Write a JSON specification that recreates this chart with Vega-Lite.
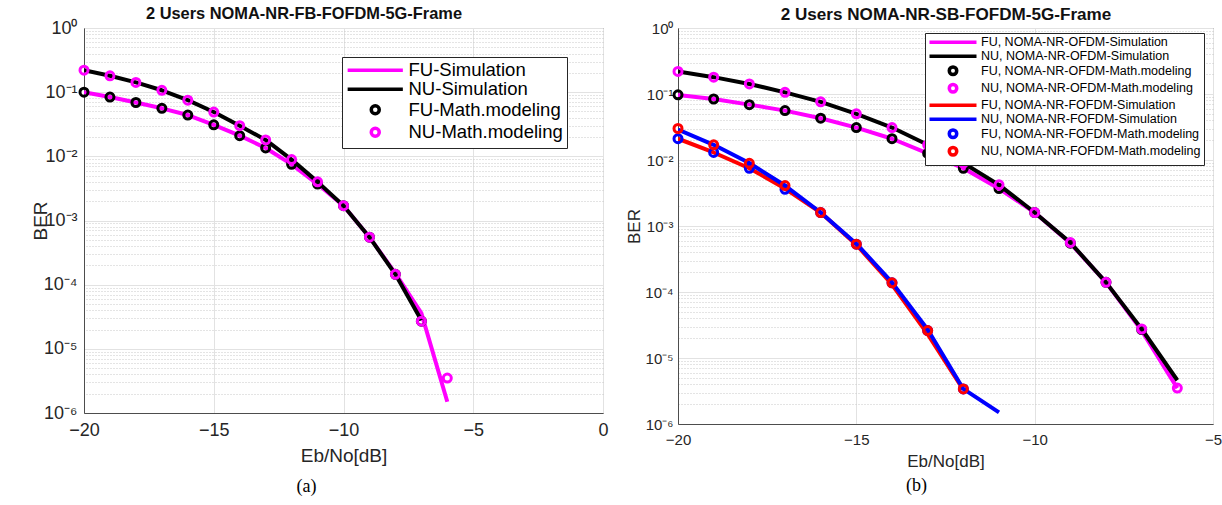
{
  "$schema": "https://vega.github.io/schema/vega-lite/v6.json",
  "background": "white",
  "padding": {"left": 30, "top": 4, "right": 2, "bottom": 2},
  "spacing": 16,
  "config": {
    "font": "Liberation Sans",
    "view": {"stroke": "#4d4d4d", "strokeWidth": 1},
    "axis": {
      "labelFont": "Liberation Sans",
      "titleFont": "Liberation Sans",
      "labelColor": "#262626",
      "titleColor": "#262626",
      "titleFontWeight": "normal",
      "domainColor": "#4d4d4d",
      "gridColor": "#e2e2e2",
      "ticks": false,
      "labelFlush": false
    }
  },
  "datasets": {
    "a": [
      {"s": "FU-Simulation", "k": "sim", "x": -20, "ber": 0.1},
      {"s": "FU-Simulation", "k": "sim", "x": -19, "ber": 0.084},
      {"s": "FU-Simulation", "k": "sim", "x": -18, "ber": 0.069},
      {"s": "FU-Simulation", "k": "sim", "x": -17, "ber": 0.056},
      {"s": "FU-Simulation", "k": "sim", "x": -16, "ber": 0.044},
      {"s": "FU-Simulation", "k": "sim", "x": -15, "ber": 0.031},
      {"s": "FU-Simulation", "k": "sim", "x": -14, "ber": 0.021},
      {"s": "FU-Simulation", "k": "sim", "x": -13, "ber": 0.0135},
      {"s": "FU-Simulation", "k": "sim", "x": -12, "ber": 0.0075},
      {"s": "FU-Simulation", "k": "sim", "x": -11, "ber": 0.0037},
      {"s": "FU-Simulation", "k": "sim", "x": -10, "ber": 0.0017},
      {"s": "FU-Simulation", "k": "sim", "x": -9, "ber": 0.00055},
      {"s": "FU-Simulation", "k": "sim", "x": -8, "ber": 0.00015},
      {"s": "FU-Simulation", "k": "sim", "x": -7, "ber": 0.000036},
      {"s": "FU-Simulation", "k": "sim", "x": -6, "ber": 0.0000015},
      {"s": "NU-Simulation", "k": "sim", "x": -20, "ber": 0.22},
      {"s": "NU-Simulation", "k": "sim", "x": -19, "ber": 0.18},
      {"s": "NU-Simulation", "k": "sim", "x": -18, "ber": 0.142},
      {"s": "NU-Simulation", "k": "sim", "x": -17, "ber": 0.107},
      {"s": "NU-Simulation", "k": "sim", "x": -16, "ber": 0.075},
      {"s": "NU-Simulation", "k": "sim", "x": -15, "ber": 0.049},
      {"s": "NU-Simulation", "k": "sim", "x": -14, "ber": 0.03},
      {"s": "NU-Simulation", "k": "sim", "x": -13, "ber": 0.018},
      {"s": "NU-Simulation", "k": "sim", "x": -12, "ber": 0.0089},
      {"s": "NU-Simulation", "k": "sim", "x": -11, "ber": 0.004},
      {"s": "NU-Simulation", "k": "sim", "x": -10, "ber": 0.0017},
      {"s": "NU-Simulation", "k": "sim", "x": -9, "ber": 0.00055},
      {"s": "NU-Simulation", "k": "sim", "x": -8, "ber": 0.000145},
      {"s": "NU-Simulation", "k": "sim", "x": -7, "ber": 0.000028},
      {"s": "FU-Math.modeling", "k": "math", "x": -20, "ber": 0.1},
      {"s": "FU-Math.modeling", "k": "math", "x": -19, "ber": 0.084},
      {"s": "FU-Math.modeling", "k": "math", "x": -18, "ber": 0.069},
      {"s": "FU-Math.modeling", "k": "math", "x": -17, "ber": 0.056},
      {"s": "FU-Math.modeling", "k": "math", "x": -16, "ber": 0.044},
      {"s": "FU-Math.modeling", "k": "math", "x": -15, "ber": 0.031},
      {"s": "FU-Math.modeling", "k": "math", "x": -14, "ber": 0.021},
      {"s": "FU-Math.modeling", "k": "math", "x": -13, "ber": 0.0135},
      {"s": "FU-Math.modeling", "k": "math", "x": -12, "ber": 0.0075},
      {"s": "FU-Math.modeling", "k": "math", "x": -11, "ber": 0.0037},
      {"s": "FU-Math.modeling", "k": "math", "x": -10, "ber": 0.0017},
      {"s": "FU-Math.modeling", "k": "math", "x": -9, "ber": 0.00055},
      {"s": "FU-Math.modeling", "k": "math", "x": -8, "ber": 0.000145},
      {"s": "FU-Math.modeling", "k": "math", "x": -7, "ber": 0.000027},
      {"s": "NU-Math.modeling", "k": "math", "x": -20, "ber": 0.22},
      {"s": "NU-Math.modeling", "k": "math", "x": -19, "ber": 0.18},
      {"s": "NU-Math.modeling", "k": "math", "x": -18, "ber": 0.142},
      {"s": "NU-Math.modeling", "k": "math", "x": -17, "ber": 0.107},
      {"s": "NU-Math.modeling", "k": "math", "x": -16, "ber": 0.075},
      {"s": "NU-Math.modeling", "k": "math", "x": -15, "ber": 0.049},
      {"s": "NU-Math.modeling", "k": "math", "x": -14, "ber": 0.03},
      {"s": "NU-Math.modeling", "k": "math", "x": -13, "ber": 0.018},
      {"s": "NU-Math.modeling", "k": "math", "x": -12, "ber": 0.0089},
      {"s": "NU-Math.modeling", "k": "math", "x": -11, "ber": 0.004},
      {"s": "NU-Math.modeling", "k": "math", "x": -10, "ber": 0.0017},
      {"s": "NU-Math.modeling", "k": "math", "x": -9, "ber": 0.00055},
      {"s": "NU-Math.modeling", "k": "math", "x": -8, "ber": 0.000145},
      {"s": "NU-Math.modeling", "k": "math", "x": -7, "ber": 0.000027},
      {"s": "NU-Math.modeling", "k": "math", "x": -6, "ber": 0.0000035}
    ],
    "b": [
      {"s": "FU, NOMA-NR-OFDM-Simulation", "k": "sim", "x": -20, "ber": 0.097},
      {"s": "FU, NOMA-NR-OFDM-Simulation", "k": "sim", "x": -19, "ber": 0.084},
      {"s": "FU, NOMA-NR-OFDM-Simulation", "k": "sim", "x": -18, "ber": 0.069},
      {"s": "FU, NOMA-NR-OFDM-Simulation", "k": "sim", "x": -17, "ber": 0.056},
      {"s": "FU, NOMA-NR-OFDM-Simulation", "k": "sim", "x": -16, "ber": 0.043},
      {"s": "FU, NOMA-NR-OFDM-Simulation", "k": "sim", "x": -15, "ber": 0.031},
      {"s": "FU, NOMA-NR-OFDM-Simulation", "k": "sim", "x": -14, "ber": 0.021},
      {"s": "FU, NOMA-NR-OFDM-Simulation", "k": "sim", "x": -13, "ber": 0.0126},
      {"s": "FU, NOMA-NR-OFDM-Simulation", "k": "sim", "x": -12, "ber": 0.0075},
      {"s": "FU, NOMA-NR-OFDM-Simulation", "k": "sim", "x": -11, "ber": 0.0037},
      {"s": "FU, NOMA-NR-OFDM-Simulation", "k": "sim", "x": -10, "ber": 0.0016},
      {"s": "FU, NOMA-NR-OFDM-Simulation", "k": "sim", "x": -9, "ber": 0.00055},
      {"s": "FU, NOMA-NR-OFDM-Simulation", "k": "sim", "x": -8, "ber": 0.00014},
      {"s": "FU, NOMA-NR-OFDM-Simulation", "k": "sim", "x": -7, "ber": 0.000026},
      {"s": "FU, NOMA-NR-OFDM-Simulation", "k": "sim", "x": -6, "ber": 0.0000035},
      {"s": "NU, NOMA-NR-OFDM-Simulation", "k": "sim", "x": -20, "ber": 0.22},
      {"s": "NU, NOMA-NR-OFDM-Simulation", "k": "sim", "x": -19, "ber": 0.18},
      {"s": "NU, NOMA-NR-OFDM-Simulation", "k": "sim", "x": -18, "ber": 0.142},
      {"s": "NU, NOMA-NR-OFDM-Simulation", "k": "sim", "x": -17, "ber": 0.106},
      {"s": "NU, NOMA-NR-OFDM-Simulation", "k": "sim", "x": -16, "ber": 0.076},
      {"s": "NU, NOMA-NR-OFDM-Simulation", "k": "sim", "x": -15, "ber": 0.05},
      {"s": "NU, NOMA-NR-OFDM-Simulation", "k": "sim", "x": -14, "ber": 0.031},
      {"s": "NU, NOMA-NR-OFDM-Simulation", "k": "sim", "x": -13, "ber": 0.017},
      {"s": "NU, NOMA-NR-OFDM-Simulation", "k": "sim", "x": -12, "ber": 0.009},
      {"s": "NU, NOMA-NR-OFDM-Simulation", "k": "sim", "x": -11, "ber": 0.0042},
      {"s": "NU, NOMA-NR-OFDM-Simulation", "k": "sim", "x": -10, "ber": 0.0016},
      {"s": "NU, NOMA-NR-OFDM-Simulation", "k": "sim", "x": -9, "ber": 0.00056},
      {"s": "NU, NOMA-NR-OFDM-Simulation", "k": "sim", "x": -8, "ber": 0.00014},
      {"s": "NU, NOMA-NR-OFDM-Simulation", "k": "sim", "x": -7, "ber": 0.0000275},
      {"s": "NU, NOMA-NR-OFDM-Simulation", "k": "sim", "x": -6, "ber": 0.0000046},
      {"s": "FU, NOMA-NR-FOFDM-Simulation", "k": "sim", "x": -20, "ber": 0.021},
      {"s": "FU, NOMA-NR-FOFDM-Simulation", "k": "sim", "x": -19, "ber": 0.013},
      {"s": "FU, NOMA-NR-FOFDM-Simulation", "k": "sim", "x": -18, "ber": 0.0075},
      {"s": "FU, NOMA-NR-FOFDM-Simulation", "k": "sim", "x": -17, "ber": 0.0037},
      {"s": "FU, NOMA-NR-FOFDM-Simulation", "k": "sim", "x": -16, "ber": 0.0016},
      {"s": "FU, NOMA-NR-FOFDM-Simulation", "k": "sim", "x": -15, "ber": 0.00052},
      {"s": "FU, NOMA-NR-FOFDM-Simulation", "k": "sim", "x": -14, "ber": 0.00013},
      {"s": "FU, NOMA-NR-FOFDM-Simulation", "k": "sim", "x": -13, "ber": 0.000023},
      {"s": "FU, NOMA-NR-FOFDM-Simulation", "k": "sim", "x": -12, "ber": 0.0000033},
      {"s": "NU, NOMA-NR-FOFDM-Simulation", "k": "sim", "x": -20, "ber": 0.029},
      {"s": "NU, NOMA-NR-FOFDM-Simulation", "k": "sim", "x": -19, "ber": 0.017},
      {"s": "NU, NOMA-NR-FOFDM-Simulation", "k": "sim", "x": -18, "ber": 0.009},
      {"s": "NU, NOMA-NR-FOFDM-Simulation", "k": "sim", "x": -17, "ber": 0.0041},
      {"s": "NU, NOMA-NR-FOFDM-Simulation", "k": "sim", "x": -16, "ber": 0.0016},
      {"s": "NU, NOMA-NR-FOFDM-Simulation", "k": "sim", "x": -15, "ber": 0.00054},
      {"s": "NU, NOMA-NR-FOFDM-Simulation", "k": "sim", "x": -14, "ber": 0.00014},
      {"s": "NU, NOMA-NR-FOFDM-Simulation", "k": "sim", "x": -13, "ber": 0.000027},
      {"s": "NU, NOMA-NR-FOFDM-Simulation", "k": "sim", "x": -12, "ber": 0.0000034},
      {"s": "NU, NOMA-NR-FOFDM-Simulation", "k": "sim", "x": -11, "ber": 0.0000015},
      {"s": "FU, NOMA-NR-OFDM-Math.modeling", "k": "math", "x": -20, "ber": 0.097},
      {"s": "FU, NOMA-NR-OFDM-Math.modeling", "k": "math", "x": -19, "ber": 0.084},
      {"s": "FU, NOMA-NR-OFDM-Math.modeling", "k": "math", "x": -18, "ber": 0.069},
      {"s": "FU, NOMA-NR-OFDM-Math.modeling", "k": "math", "x": -17, "ber": 0.056},
      {"s": "FU, NOMA-NR-OFDM-Math.modeling", "k": "math", "x": -16, "ber": 0.043},
      {"s": "FU, NOMA-NR-OFDM-Math.modeling", "k": "math", "x": -15, "ber": 0.031},
      {"s": "FU, NOMA-NR-OFDM-Math.modeling", "k": "math", "x": -14, "ber": 0.021},
      {"s": "FU, NOMA-NR-OFDM-Math.modeling", "k": "math", "x": -13, "ber": 0.0126},
      {"s": "FU, NOMA-NR-OFDM-Math.modeling", "k": "math", "x": -12, "ber": 0.0075},
      {"s": "FU, NOMA-NR-OFDM-Math.modeling", "k": "math", "x": -11, "ber": 0.0037},
      {"s": "FU, NOMA-NR-OFDM-Math.modeling", "k": "math", "x": -10, "ber": 0.0016},
      {"s": "FU, NOMA-NR-OFDM-Math.modeling", "k": "math", "x": -9, "ber": 0.00055},
      {"s": "FU, NOMA-NR-OFDM-Math.modeling", "k": "math", "x": -8, "ber": 0.00014},
      {"s": "FU, NOMA-NR-OFDM-Math.modeling", "k": "math", "x": -7, "ber": 0.000027},
      {"s": "NU, NOMA-NR-OFDM-Math.modeling", "k": "math", "x": -20, "ber": 0.22},
      {"s": "NU, NOMA-NR-OFDM-Math.modeling", "k": "math", "x": -19, "ber": 0.18},
      {"s": "NU, NOMA-NR-OFDM-Math.modeling", "k": "math", "x": -18, "ber": 0.142},
      {"s": "NU, NOMA-NR-OFDM-Math.modeling", "k": "math", "x": -17, "ber": 0.106},
      {"s": "NU, NOMA-NR-OFDM-Math.modeling", "k": "math", "x": -16, "ber": 0.076},
      {"s": "NU, NOMA-NR-OFDM-Math.modeling", "k": "math", "x": -15, "ber": 0.05},
      {"s": "NU, NOMA-NR-OFDM-Math.modeling", "k": "math", "x": -14, "ber": 0.031},
      {"s": "NU, NOMA-NR-OFDM-Math.modeling", "k": "math", "x": -13, "ber": 0.017},
      {"s": "NU, NOMA-NR-OFDM-Math.modeling", "k": "math", "x": -12, "ber": 0.009},
      {"s": "NU, NOMA-NR-OFDM-Math.modeling", "k": "math", "x": -11, "ber": 0.0042},
      {"s": "NU, NOMA-NR-OFDM-Math.modeling", "k": "math", "x": -10, "ber": 0.0016},
      {"s": "NU, NOMA-NR-OFDM-Math.modeling", "k": "math", "x": -9, "ber": 0.00056},
      {"s": "NU, NOMA-NR-OFDM-Math.modeling", "k": "math", "x": -8, "ber": 0.00014},
      {"s": "NU, NOMA-NR-OFDM-Math.modeling", "k": "math", "x": -7, "ber": 0.0000275},
      {"s": "NU, NOMA-NR-OFDM-Math.modeling", "k": "math", "x": -6, "ber": 0.0000035},
      {"s": "FU, NOMA-NR-FOFDM-Math.modeling", "k": "math", "x": -20, "ber": 0.021},
      {"s": "FU, NOMA-NR-FOFDM-Math.modeling", "k": "math", "x": -19, "ber": 0.013},
      {"s": "FU, NOMA-NR-FOFDM-Math.modeling", "k": "math", "x": -18, "ber": 0.0075},
      {"s": "FU, NOMA-NR-FOFDM-Math.modeling", "k": "math", "x": -17, "ber": 0.0036},
      {"s": "FU, NOMA-NR-FOFDM-Math.modeling", "k": "math", "x": -16, "ber": 0.0016},
      {"s": "FU, NOMA-NR-FOFDM-Math.modeling", "k": "math", "x": -15, "ber": 0.00053},
      {"s": "FU, NOMA-NR-FOFDM-Math.modeling", "k": "math", "x": -14, "ber": 0.000138},
      {"s": "FU, NOMA-NR-FOFDM-Math.modeling", "k": "math", "x": -13, "ber": 0.000026},
      {"s": "FU, NOMA-NR-FOFDM-Math.modeling", "k": "math", "x": -12, "ber": 0.0000034},
      {"s": "NU, NOMA-NR-FOFDM-Math.modeling", "k": "math", "x": -20, "ber": 0.03},
      {"s": "NU, NOMA-NR-FOFDM-Math.modeling", "k": "math", "x": -19, "ber": 0.017},
      {"s": "NU, NOMA-NR-FOFDM-Math.modeling", "k": "math", "x": -18, "ber": 0.0089},
      {"s": "NU, NOMA-NR-FOFDM-Math.modeling", "k": "math", "x": -17, "ber": 0.0041},
      {"s": "NU, NOMA-NR-FOFDM-Math.modeling", "k": "math", "x": -16, "ber": 0.0016},
      {"s": "NU, NOMA-NR-FOFDM-Math.modeling", "k": "math", "x": -15, "ber": 0.00053},
      {"s": "NU, NOMA-NR-FOFDM-Math.modeling", "k": "math", "x": -14, "ber": 0.000138},
      {"s": "NU, NOMA-NR-FOFDM-Math.modeling", "k": "math", "x": -13, "ber": 0.000026},
      {"s": "NU, NOMA-NR-FOFDM-Math.modeling", "k": "math", "x": -12, "ber": 0.0000034}
    ]
  },
  "resolve": {
    "scale": {"color": "independent", "x": "independent", "y": "independent"},
    "legend": {"color": "independent"}
  },
  "hconcat": [
    {
      "width": 519,
      "height": 385,
      "title": {"text": "(a)", "orient": "bottom", "anchor": "middle", "font": "Liberation Serif", "fontSize": 18, "fontWeight": "normal", "color": "black", "offset": 13, "dx": -37},
      "data": {"name": "a"},
      "resolve": {"axis": {"x": "independent", "y": "independent"}},
      "layer": [
        {
          "transform": [{"filter": "datum.k == 'sim'"}],
          "mark": {"type": "line", "strokeWidth": 4, "strokeJoin": "round", "clip": true},
          "encoding": {
            "x": {"field": "x", "type": "quantitative", "scale": {"domain": [-20, 0], "nice": false, "zero": false},
              "axis": {"values": [-20, -15, -10, -5, 0], "title": "Eb/No[dB]", "labelFontSize": 18, "titleFontSize": 19, "labelPadding": 8, "titlePadding": 7, "grid": true}},
            "y": {"field": "ber", "type": "quantitative", "scale": {"type": "log", "domain": [0.000001, 1], "nice": false},
              "axis": {"values": [0.000001, 0.00001, 0.0001, 0.001, 0.01, 0.1, 1], "title": "BER", "labelFontSize": 18, "titleFontSize": 19, "labelPadding": 7, "titlePadding": -7, "grid": true,
                "labelExpr": "datum.value > 0.5 ? '10⁰' : datum.value > 0.05 ? '10⁻¹' : datum.value > 0.005 ? '10⁻²' : datum.value > 0.0005 ? '10⁻³' : datum.value > 0.00005 ? '10⁻⁴' : datum.value > 0.000005 ? '10⁻⁵' : '10⁻⁶'"}},
            "color": {"field": "s", "type": "nominal",
              "scale": {"domain": ["FU-Simulation", "NU-Simulation", "FU-Math.modeling", "NU-Math.modeling"], "range": ["#ff00ff", "#000000", "#000000", "#ff00ff"]},
              "legend": {"orient": "none", "legendX": 258, "legendY": 29, "title": null, "strokeColor": "#262626", "fillColor": "white", "padding": 4, "labelFontSize": 18.5, "labelColor": "black", "labelLimit": 400, "rowPadding": -0.5, "symbolSize": 64, "symbolStrokeWidth": 3.5, "symbolOffset": 20, "labelOffset": 24,
                "labelExpr": "datum.label + '\u00a0\u00a0'",
                "encode": {"symbols": {"update": {"shape": {"signal": "indexof(datum.value, 'Math') >= 0 ? 'circle' : 'M-6.9,0H6.9'"}}}}}
            }
          }
        },
        {
          "transform": [{"filter": "datum.k == 'math'"}],
          "mark": {"type": "point", "shape": "circle", "filled": false, "size": 64, "strokeWidth": 3, "opacity": 1},
          "encoding": {
            "x": {"field": "x", "type": "quantitative", "scale": {"domain": [-20, 0], "nice": false, "zero": false},
              "axis": {"orient": "top", "labels": false, "ticks": false, "domain": false, "grid": false, "title": "2 Users NOMA-NR-FB-FOFDM-5G-Frame", "titleFontSize": 16.4, "titleFontWeight": "bold", "titleColor": "#111111", "titlePadding": 7, "titleX": 219.5}},
            "y": {"field": "ber", "type": "quantitative", "scale": {"type": "log", "domain": [0.000001, 1], "nice": false},
              "axis": {"orient": "right", "values": [0.000002, 0.000003, 0.000004, 0.000005, 0.000006, 0.000007, 0.000008, 0.000009, 0.00002, 0.00003, 0.00004, 0.00005, 0.00006, 0.00007, 0.00008, 0.00009, 0.0002, 0.0003, 0.0004, 0.0005, 0.0006, 0.0007, 0.0008, 0.0009, 0.002, 0.003, 0.004, 0.005, 0.006, 0.007, 0.008, 0.009, 0.02, 0.03, 0.04, 0.05, 0.06, 0.07, 0.08, 0.09, 0.2, 0.3, 0.4, 0.5, 0.6, 0.7, 0.8, 0.9],
                "grid": true, "gridDash": [1, 2], "gridColor": "#c8c8c8", "labels": false, "ticks": false, "domain": false, "title": null}},
            "color": {"field": "s", "type": "nominal"}
          }
        }
      ]
    },
    {
      "width": 535,
      "height": 396,
      "title": {"text": "(b)", "orient": "bottom", "anchor": "middle", "font": "Liberation Serif", "fontSize": 18, "fontWeight": "normal", "color": "black", "offset": 8, "dx": -29},
      "data": {"name": "b"},
      "resolve": {"axis": {"x": "independent", "y": "independent"}},
      "layer": [
        {
          "transform": [{"filter": "datum.k == 'sim'"}],
          "mark": {"type": "line", "strokeWidth": 4, "strokeJoin": "round", "clip": true},
          "encoding": {
            "x": {"field": "x", "type": "quantitative", "scale": {"domain": [-20, -5], "nice": false, "zero": false},
              "axis": {"values": [-20, -15, -10, -5], "title": "Eb/No[dB]", "labelFontSize": 15, "titleFontSize": 17, "labelPadding": 8, "titlePadding": 6, "grid": true}},
            "y": {"field": "ber", "type": "quantitative", "scale": {"type": "log", "domain": [0.000001, 1], "nice": false},
              "axis": {"values": [0.000001, 0.00001, 0.0001, 0.001, 0.01, 0.1, 1], "title": "BER", "labelFontSize": 15, "titleFontSize": 17, "labelPadding": 5, "titlePadding": 1, "grid": true,
                "labelExpr": "datum.value > 0.5 ? '10⁰' : datum.value > 0.05 ? '10⁻¹' : datum.value > 0.005 ? '10⁻²' : datum.value > 0.0005 ? '10⁻³' : datum.value > 0.00005 ? '10⁻⁴' : datum.value > 0.000005 ? '10⁻⁵' : '10⁻⁶'"}},
            "color": {"field": "s", "type": "nominal",
              "scale": {"domain": ["FU, NOMA-NR-OFDM-Simulation", "NU, NOMA-NR-OFDM-Simulation", "FU, NOMA-NR-OFDM-Math.modeling", "NU, NOMA-NR-OFDM-Math.modeling", "FU, NOMA-NR-FOFDM-Simulation", "NU, NOMA-NR-FOFDM-Simulation", "FU, NOMA-NR-FOFDM-Math.modeling", "NU, NOMA-NR-FOFDM-Math.modeling"],
                "range": ["#ff00ff", "#000000", "#000000", "#ff00ff", "#ff0000", "#0000ff", "#0000ff", "#ff0000"]},
              "legend": {"orient": "none", "legendX": 247, "legendY": 5, "title": null, "strokeColor": "#262626", "fillColor": "white", "padding": 3, "labelFontSize": 12.5, "labelColor": "black", "labelLimit": 400, "rowPadding": -4.5, "symbolSize": 56, "symbolStrokeWidth": 3.5, "symbolOffset": 18.75, "labelOffset": 21.75,
                "labelExpr": "datum.label + '\u00a0'",
                "encode": {"symbols": {"update": {"shape": {"signal": "indexof(datum.value, 'Math') >= 0 ? 'circle' : 'M-6.28,0H6.28'"}}}}}
            }
          }
        },
        {
          "transform": [{"filter": "datum.k == 'math'"}],
          "mark": {"type": "point", "shape": "circle", "filled": false, "size": 64, "strokeWidth": 3, "opacity": 1},
          "encoding": {
            "x": {"field": "x", "type": "quantitative", "scale": {"domain": [-20, -5], "nice": false, "zero": false},
              "axis": {"orient": "top", "labels": false, "ticks": false, "domain": false, "grid": false, "title": "2 Users NOMA-NR-SB-FOFDM-5G-Frame", "titleFontSize": 17.1, "titleFontWeight": "bold", "titleColor": "#111111", "titlePadding": 5}},
            "y": {"field": "ber", "type": "quantitative", "scale": {"type": "log", "domain": [0.000001, 1], "nice": false},
              "axis": {"orient": "right", "values": [0.000002, 0.000003, 0.000004, 0.000005, 0.000006, 0.000007, 0.000008, 0.000009, 0.00002, 0.00003, 0.00004, 0.00005, 0.00006, 0.00007, 0.00008, 0.00009, 0.0002, 0.0003, 0.0004, 0.0005, 0.0006, 0.0007, 0.0008, 0.0009, 0.002, 0.003, 0.004, 0.005, 0.006, 0.007, 0.008, 0.009, 0.02, 0.03, 0.04, 0.05, 0.06, 0.07, 0.08, 0.09, 0.2, 0.3, 0.4, 0.5, 0.6, 0.7, 0.8, 0.9],
                "grid": true, "gridDash": [1, 2], "gridColor": "#c8c8c8", "labels": false, "ticks": false, "domain": false, "title": null}},
            "color": {"field": "s", "type": "nominal"}
          }
        }
      ]
    }
  ]
}
